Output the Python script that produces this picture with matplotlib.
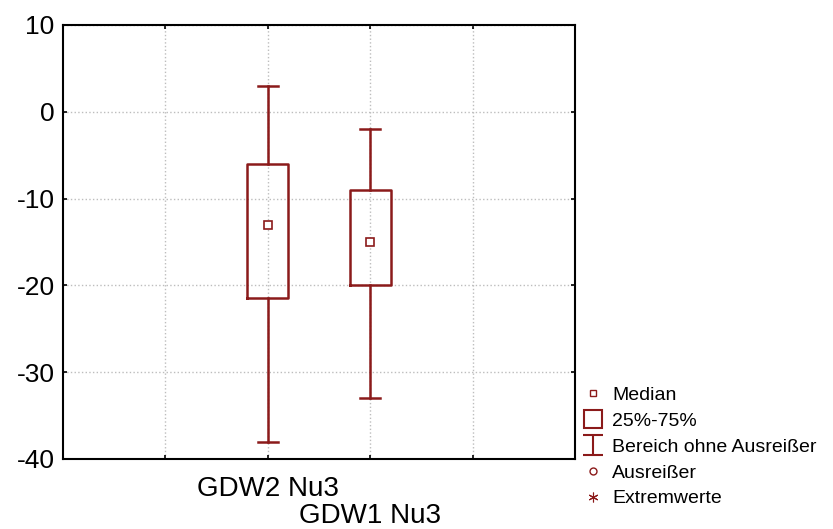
import numpy as np
import matplotlib.pyplot as plt
from matplotlib.lines import Line2D
from matplotlib.path import Path

plt.rcParams['font.family'] = ['Liberation Sans', 'DejaVu Sans']
plt.rcParams['axes.unicode_minus'] = False

# box statistics per group
groups = ["GDW2 Nu3", "GDW1 Nu3"]
positions = [2, 3]
medians = [-13, -15]
q1 = [-21.5, -20]
q3 = [-6, -9]
whis_lo = [-38, -33]
whis_hi = [3, -2]

legend_labels = ["Median", "25%-75%", "Bereich ohne Ausreißer", "Ausreißer", "Extremwerte"]

col = '#8b1a1a'

fig = plt.figure(figsize=(8.33, 5.29), dpi=100)
ax = fig.add_axes([63 / 833, 1 - 459 / 529, 512 / 833, 434 / 529])

stats = []
for i in range(len(groups)):
    stats.append(dict(med=medians[i], q1=q1[i], q3=q3[i],
                      whislo=whis_lo[i], whishi=whis_hi[i],
                      mean=medians[i], fliers=[], label=groups[i]))

ax.bxp(stats, positions=positions, widths=0.4, capwidths=0.2,
       showmeans=True, showfliers=False, manage_ticks=False,
       boxprops=dict(color=col, linewidth=1.8),
       whiskerprops=dict(color=col, linewidth=1.8),
       capprops=dict(color=col, linewidth=1.8),
       medianprops=dict(visible=False),
       meanprops=dict(marker='s', markersize=6, markerfacecolor='white',
                      markeredgecolor=col, markeredgewidth=1.2))

ax.set_xlim(0, 5)
ax.set_ylim(-40, 10)
ax.set_yticks([-40, -30, -20, -10, 0, 10])
ax.set_xticks([1, 2, 3, 4])
ax.set_xticklabels(["", groups[0], groups[1], ""])
ax.tick_params(axis='both', direction='in', length=3, width=1.2,
               top=True, right=True, labelsize=19, pad=6)
ax.tick_params(axis='x', labelsize=20, pad=12)
# staggered category labels
xt = ax.xaxis.get_major_ticks()
xt[2].set_pad(32)
ax.grid(True, color='#bdbdbd', linestyle=':', linewidth=1.0)
ax.set_axisbelow(True)
for s in ax.spines.values():
    s.set_linewidth(1.5)

# whisker legend glyph
whisk = Path([(-1, 1), (1, 1), (0, 1), (0, -1), (-1, -1), (1, -1)],
             [Path.MOVETO, Path.LINETO, Path.MOVETO, Path.LINETO,
              Path.MOVETO, Path.LINETO])

handles = [
    Line2D([], [], linestyle='none', marker='s', markersize=5,
           markerfacecolor='white', markeredgecolor=col, markeredgewidth=1.0),
    Line2D([], [], linestyle='none', marker='s', markersize=13,
           markerfacecolor='white', markeredgecolor=col, markeredgewidth=1.5),
    Line2D([], [], linestyle='none', marker=whisk, markersize=15,
           markeredgecolor=col, markeredgewidth=1.5),
    Line2D([], [], linestyle='none', marker='o', markersize=5,
           markerfacecolor='white', markeredgecolor=col, markeredgewidth=1.0),
    Line2D([], [], linestyle='none', marker=(6, 2, 0), markersize=7,
           markeredgecolor=col, markeredgewidth=0.8),
]
fig.legend(handles, legend_labels, loc='upper left',
           bbox_to_anchor=(583 / 833, 1 - 386 / 529), frameon=False,
           fontsize=14, handlelength=1.0, handletextpad=0.5,
           labelspacing=0.43, borderpad=0, borderaxespad=0)

fig.savefig('out.png', dpi=100)
